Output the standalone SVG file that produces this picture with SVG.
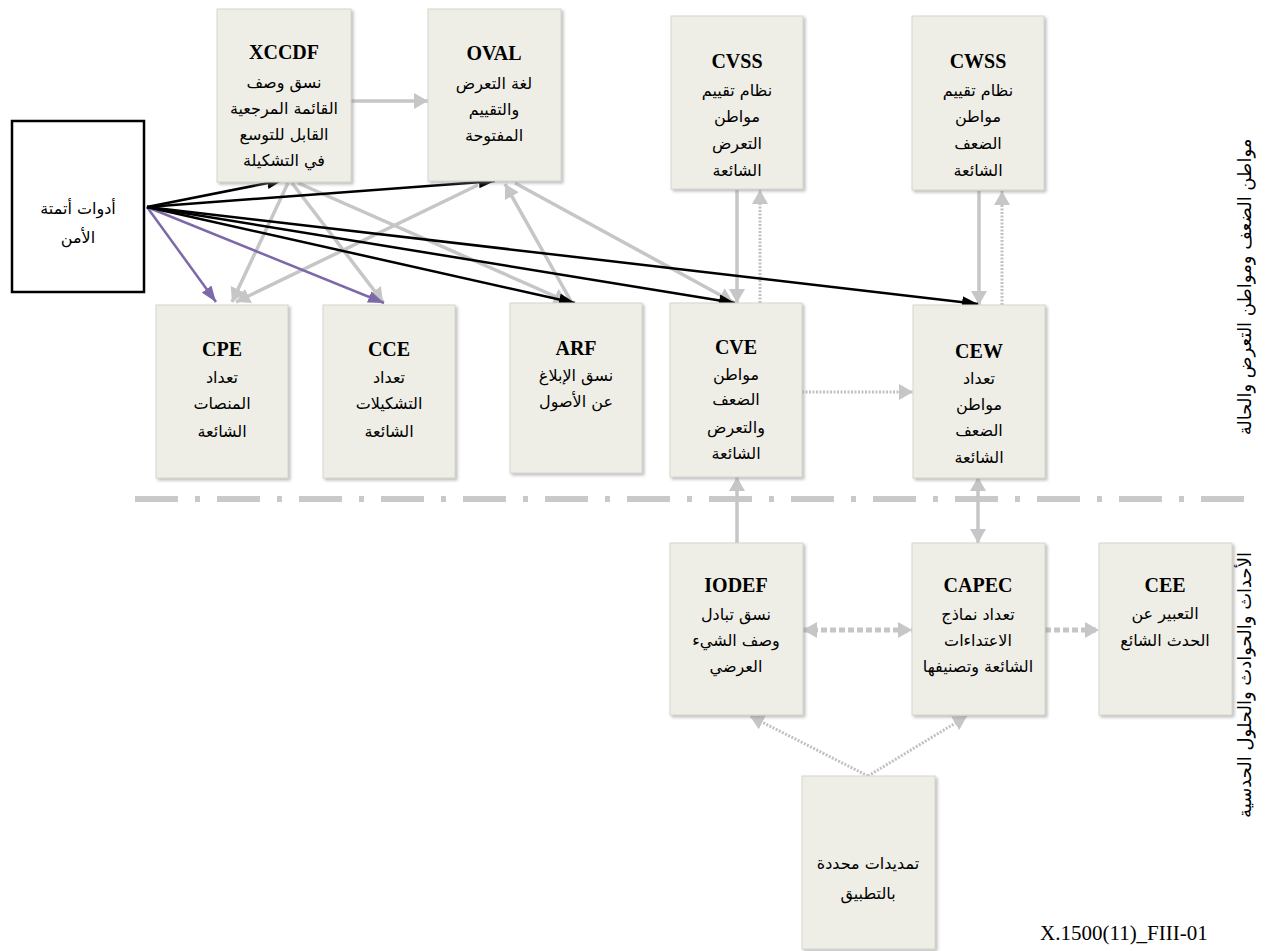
<svg xmlns="http://www.w3.org/2000/svg" width="1266" height="951" viewBox="0 0 1266 951">
<style>
.box{fill:#efeee6;stroke:#d6d6ce;stroke-width:1;filter:url(#sh)}
.tool{fill:#ffffff;stroke:#000000;stroke-width:2.5}
.t{font-family:"Liberation Serif",serif;font-weight:bold;font-size:20px;fill:#000;text-anchor:middle}
.ar{font-family:"DejaVu Sans","Liberation Serif",sans-serif;font-size:16px;fill:#000;text-anchor:middle;direction:rtl}
.vt{font-family:"DejaVu Sans","Liberation Serif",sans-serif;font-size:18px;fill:#000;text-anchor:middle;direction:rtl}
.blk{stroke:#000;stroke-width:2.5;fill:none;marker-end:url(#mb)}
.pur{stroke:#7d69a9;stroke-width:2.5;fill:none;marker-end:url(#mp)}
.gr{stroke:#c6c6c6;stroke-width:3.5;fill:none}
.gra{stroke:#c6c6c6;stroke-width:3.5;fill:none;marker-end:url(#mg)}
.dot{stroke:#c2c2c2;stroke-width:3;fill:none;stroke-dasharray:2 1.5;marker-end:url(#mg)}
.dsh{stroke:#c6c6c6;stroke-width:5;fill:none;stroke-dasharray:6 3}
.sep{stroke:#c9c9c9;stroke-width:6;fill:none;stroke-dasharray:43 17 5 17}
.foot{font-family:"Liberation Serif",serif;font-size:21px;fill:#000}
</style>
<defs>
<filter id="sh" x="-10%" y="-10%" width="125%" height="125%">
<feDropShadow dx="2" dy="2" stdDeviation="1.5" flood-color="#888" flood-opacity="0.55"/>
</filter>
<marker id="mb" markerUnits="userSpaceOnUse" markerWidth="16" markerHeight="12" refX="16" refY="6" orient="auto"><path d="M0,0 L16,6 L0,12 z" fill="#000"/></marker>
<marker id="mp" markerUnits="userSpaceOnUse" markerWidth="16" markerHeight="12" refX="16" refY="6" orient="auto"><path d="M0,0 L16,6 L0,12 z" fill="#7d69a9"/></marker>
<marker id="mg" markerUnits="userSpaceOnUse" markerWidth="14" markerHeight="16" refX="14" refY="8" orient="auto"><path d="M0,0 L14,8 L0,16 z" fill="#c6c6c6"/></marker>
<marker id="mgs" markerUnits="userSpaceOnUse" markerWidth="14" markerHeight="16" refX="14" refY="8" orient="auto-start-reverse"><path d="M0,0 L14,8 L0,16 z" fill="#c6c6c6"/></marker>
</defs>
<rect width="1266" height="951" fill="#ffffff"/>

<path class="sep" d="M135,499 H1250"/>

<g id="connectors">
<path class="gra" d="M351,101 H428"/>
<path class="gra" d="M288,183 L232,302"/>
<path class="gra" d="M478,185 L236,302"/>
<path class="gra" d="M292,183 L383,302"/>
<path class="gra" d="M298,183 L568,302"/>
<path class="gra" d="M572,303 L505,184"/>
<path class="gra" d="M515,183 L733,302"/>
<path class="gra" d="M737,190 V303"/>
<path class="dot" d="M760,303 V190"/>
<path class="gra" d="M979,191 V305"/>
<path class="dot" d="M1002,305 V191"/>
<path class="dot" d="M802,392 H913"/>
<path class="gra" d="M737,543 V477"/>
<path class="gr" d="M978,543 V477" marker-end="url(#mg)" marker-start="url(#mgs)"/>
<path class="dsh" d="M803,630 H912" marker-end="url(#mg)" marker-start="url(#mgs)"/>
<path class="dsh" d="M1045,630 H1099" marker-end="url(#mg)"/>
<path class="dot" d="M868,776 L750,716"/>
<path class="dot" d="M868,776 L967,716"/>
<path class="pur" d="M147,207 L216,302"/>
<path class="pur" d="M147,207 L384,303"/>
<path class="blk" d="M147,207 L283,180"/>
<path class="blk" d="M147,207 L495,181"/>
<path class="blk" d="M147,207 L575,303"/>
<path class="blk" d="M147,207 L735,303"/>
<path class="blk" d="M147,207 L978,304"/>
</g>

<g id="tools">
<rect class="tool" x="12" y="121" width="132" height="171"/>
<text class="ar" x="78" y="214">أدوات أتمتة</text>
<text class="ar" x="78" y="243">الأمن</text>
</g>

<g id="xccdf">
<rect class="box" x="217" y="9" width="134" height="173"/>
<text class="t" x="284" y="59">XCCDF</text>
<text class="ar" x="284" y="88">نسق وصف</text>
<text class="ar" x="284" y="114">القائمة المرجعية</text>
<text class="ar" x="284" y="140">القابل للتوسع</text>
<text class="ar" x="284" y="166">في التشكيلة</text>
</g>

<g id="oval">
<rect class="box" x="428" y="9" width="133" height="172"/>
<text class="t" x="494" y="60">OVAL</text>
<text class="ar" x="494" y="89">لغة التعرض</text>
<text class="ar" x="494" y="115">والتقييم</text>
<text class="ar" x="494" y="141">المفتوحة</text>
</g>

<g id="cvss">
<rect class="box" x="671" y="16" width="132" height="173"/>
<text class="t" x="737" y="68">CVSS</text>
<text class="ar" x="737" y="96">نظام تقييم</text>
<text class="ar" x="737" y="122">مواطن</text>
<text class="ar" x="737" y="149">التعرض</text>
<text class="ar" x="737" y="176">الشائعة</text>
</g>

<g id="cwss">
<rect class="box" x="912" y="16" width="132" height="174"/>
<text class="t" x="978" y="68">CWSS</text>
<text class="ar" x="978" y="96">نظام تقييم</text>
<text class="ar" x="978" y="122">مواطن</text>
<text class="ar" x="978" y="149">الضعف</text>
<text class="ar" x="978" y="176">الشائعة</text>
</g>

<g id="cpe">
<rect class="box" x="156" y="305" width="132" height="173"/>
<text class="t" x="222" y="356">CPE</text>
<text class="ar" x="222" y="383">تعداد</text>
<text class="ar" x="222" y="409">المنصات</text>
<text class="ar" x="222" y="437">الشائعة</text>
</g>

<g id="cce">
<rect class="box" x="323" y="305" width="132" height="173"/>
<text class="t" x="389" y="356">CCE</text>
<text class="ar" x="389" y="383">تعداد</text>
<text class="ar" x="389" y="409">التشكيلات</text>
<text class="ar" x="389" y="437">الشائعة</text>
</g>

<g id="arf">
<rect class="box" x="510" y="303" width="132" height="170"/>
<text class="t" x="576" y="355">ARF</text>
<text class="ar" x="576" y="381">نسق الإبلاغ</text>
<text class="ar" x="576" y="407">عن الأصول</text>
</g>

<g id="cve">
<rect class="box" x="670" y="303" width="132" height="174"/>
<text class="t" x="736" y="354">CVE</text>
<text class="ar" x="736" y="380">مواطن</text>
<text class="ar" x="736" y="405">الضعف</text>
<text class="ar" x="736" y="433">والتعرض</text>
<text class="ar" x="736" y="459">الشائعة</text>
</g>

<g id="cew">
<rect class="box" x="913" y="305" width="132" height="173"/>
<text class="t" x="979" y="358">CEW</text>
<text class="ar" x="979" y="384">تعداد</text>
<text class="ar" x="979" y="410">مواطن</text>
<text class="ar" x="979" y="436">الضعف</text>
<text class="ar" x="979" y="463">الشائعة</text>
</g>

<g id="iodef">
<rect class="box" x="670" y="543" width="133" height="172"/>
<text class="t" x="736" y="592">IODEF</text>
<text class="ar" x="736" y="620">نسق تبادل</text>
<text class="ar" x="736" y="646">وصف الشيء</text>
<text class="ar" x="736" y="672">العرضي</text>
</g>

<g id="capec">
<rect class="box" x="912" y="543" width="133" height="172"/>
<text class="t" x="978" y="592">CAPEC</text>
<text class="ar" x="978" y="620">تعداد نماذج</text>
<text class="ar" x="978" y="646">الاعتداءات</text>
<text class="ar" x="978" y="672">الشائعة وتصنيفها</text>
</g>

<g id="cee">
<rect class="box" x="1099" y="543" width="133" height="172"/>
<text class="t" x="1165" y="592">CEE</text>
<text class="ar" x="1165" y="619">التعبير عن</text>
<text class="ar" x="1165" y="646">الحدث الشائع</text>
</g>

<g id="appext">
<rect class="box" x="802" y="776" width="133" height="173"/>
<text class="ar" x="868" y="869">تمديدات محددة</text>
<text class="ar" x="868" y="899">بالتطبيق</text>
</g>

<g id="labels">
<text class="vt" transform="translate(1251,287) rotate(-90)">مواطن الضعف ومواطن التعرض والحالة</text>
<text class="vt" transform="translate(1251,685) rotate(-90)">الأحداث والحوادث والحلول الحدسية</text>
<text class="foot" x="1040" y="940">X.1500(11)_FIII-01</text>
</g>
</svg>
